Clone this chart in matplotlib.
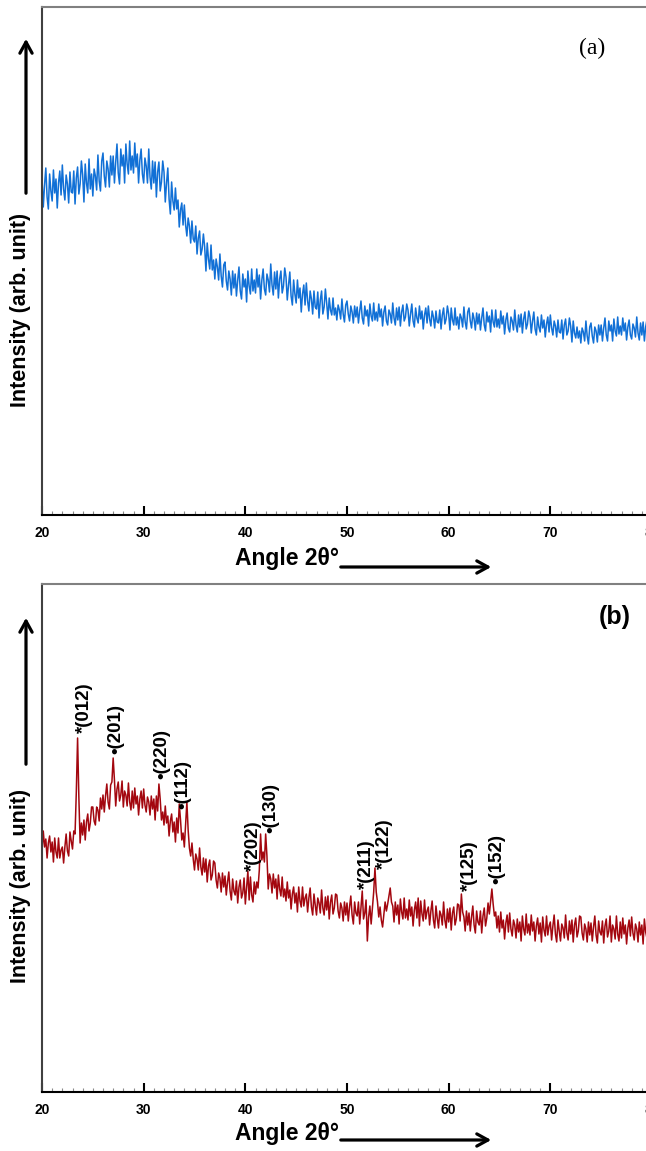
import numpy as np
import matplotlib.pyplot as plt
from matplotlib.patches import FancyArrowPatch
from matplotlib.ticker import MultipleLocator

plt.rcParams['font.family'] = ['Liberation Sans', 'DejaVu Sans']

# 2-theta grid (deg), 0.125 step
angle = np.arange(20, 80.001, 0.125)

# panel (a): amorphous sample, intensity in arb. units
intensity_a = [
    336, 308, 330, 347, 318, 306, 341, 324,   # 20
    314, 345, 322, 336, 307, 332, 344, 320,
    350, 326, 315, 340, 331, 312, 343, 323,
    322, 344, 311, 337, 348, 321, 331, 354,
    340, 313, 351, 332, 322, 356, 326, 341,
    319, 346, 339, 325, 360, 334, 324, 354,   # 25
    362, 339, 328, 354, 346, 328, 359, 340,
    359, 332, 353, 371, 342, 331, 366, 349,
    360, 332, 371, 351, 341, 374, 345, 359,
    342, 372, 348, 361, 332, 355, 366, 341,
    332, 357, 349, 332, 366, 338, 326, 354,   # 30
    332, 353, 318, 343, 353, 324, 333, 354,
    343, 313, 332, 347, 316, 301, 333, 314,
    305, 327, 306, 315, 288, 305, 312, 290,
    310, 290, 279, 297, 289, 272, 294, 276,
    273, 289, 261, 277, 284, 260, 266, 281,   # 35
    268, 244, 272, 256, 246, 270, 245, 255,
    236, 256, 248, 235, 261, 239, 228, 250,
    253, 234, 225, 244, 236, 220, 244, 227,
    241, 219, 235, 248, 224, 216, 241, 228,
    236, 213, 244, 229, 221, 246, 224, 235,   # 40
    222, 246, 228, 240, 216, 235, 246, 226,
    220, 241, 235, 223, 251, 230, 220, 243,
    226, 244, 217, 236, 244, 222, 229, 247,
    238, 215, 230, 243, 219, 210, 235, 221,
    212, 235, 217, 227, 203, 221, 230, 210,   # 45
    232, 214, 204, 224, 216, 201, 224, 208,
    206, 223, 197, 215, 224, 201, 208, 226,
    212, 196, 217, 205, 200, 217, 200, 207,
    195, 210, 205, 196, 216, 201, 193, 210,
    214, 201, 194, 209, 203, 192, 209, 198,   # 50
    208, 192, 204, 214, 197, 191, 209, 199,
    205, 189, 211, 199, 194, 212, 195, 203,
    194, 211, 198, 206, 189, 203, 209, 194,
    190, 205, 201, 192, 212, 197, 190, 207,
    195, 208, 189, 203, 210, 194, 198, 211,   # 55
    205, 189, 201, 211, 194, 188, 207, 197,
    192, 209, 196, 204, 186, 200, 207, 192,
    209, 196, 189, 204, 198, 187, 204, 193,
    192, 205, 186, 200, 207, 191, 196, 209,
    201, 185, 207, 195, 190, 207, 190, 198,   # 60
    186, 201, 197, 188, 208, 193, 186, 203,
    207, 194, 187, 202, 196, 185, 202, 191,
    201, 185, 197, 207, 190, 184, 203, 193,
    199, 183, 205, 193, 188, 205, 188, 196,
    187, 204, 191, 199, 181, 195, 202, 187,   # 65
    183, 198, 194, 185, 205, 190, 183, 200,
    188, 201, 182, 196, 203, 186, 191, 204,
    198, 182, 194, 203, 186, 180, 198, 188,
    183, 200, 187, 195, 178, 191, 198, 183,
    200, 187, 180, 194, 189, 178, 195, 183,   # 70
    182, 195, 176, 190, 196, 180, 184, 197,
    189, 173, 194, 182, 177, 188, 177, 184,
    172, 187, 183, 174, 194, 179, 171, 188,
    192, 179, 172, 188, 184, 173, 190, 180,
    190, 174, 187, 197, 180, 174, 194, 184,   # 75
    190, 174, 196, 184, 179, 198, 181, 189,
    180, 197, 184, 192, 175, 188, 195, 180,
    176, 191, 187, 178, 198, 182, 175, 192,
    180, 193, 174, 188, 195, 179, 184, 197,
    185,
]

# panel (b): crystalline sample
intensity_b = [
    242, 261, 245, 253, 234, 249, 256, 240,   # 20
    250, 230, 254, 240, 234, 254, 234, 242,
    245, 229, 245, 258, 241, 236, 260, 251,
    243, 261, 258, 300, 354, 295, 249, 269,
    257, 272, 252, 270, 278, 261, 269, 285,
    285, 271, 267, 285, 282, 271, 294, 283,   # 25
    297, 280, 296, 308, 290, 283, 307, 310,
    334, 312, 286, 303, 310, 291, 297, 311,
    285, 301, 297, 286, 309, 290, 282, 301,
    284, 304, 288, 296, 277, 293, 301, 284,
    303, 287, 280, 295, 290, 277, 296, 283,   # 30
    293, 272, 296, 281, 308, 293, 272, 280,
    267, 286, 269, 276, 256, 271, 278, 260,
    270, 250, 274, 259, 288, 272, 252, 259,
    245, 268, 290, 262, 244, 236, 249, 233,
    222, 238, 233, 222, 244, 225, 217, 234,   # 35
    220, 233, 210, 226, 232, 212, 217, 231,
    229, 212, 204, 219, 214, 200, 219, 205,
    216, 197, 210, 220, 201, 192, 213, 201,
    197, 211, 189, 205, 212, 194, 199, 214,
    188, 205, 221, 192, 215, 197, 190, 210,   # 40
    198, 210, 204, 222, 258, 232, 240, 230,
    258, 236, 203, 218, 213, 199, 218, 204,
    213, 193, 217, 203, 196, 215, 195, 203,
    191, 210, 194, 202, 183, 198, 205, 189,
    199, 180, 205, 191, 185, 205, 186, 194,   # 45
    198, 180, 194, 204, 185, 177, 198, 187,
    177, 194, 189, 179, 202, 184, 177, 195,
    182, 196, 173, 190, 197, 178, 184, 198,
    197, 181, 174, 189, 184, 171, 190, 177,
    189, 171, 185, 196, 177, 168, 190, 179,   # 50
    176, 190, 168, 185, 201, 173, 179, 192,
    151, 175, 186, 168, 184, 200, 224, 200,
    190, 175, 185, 172, 165, 178, 190, 181,
    188, 196, 204, 190, 186, 170, 190, 177,
    187, 168, 193, 180, 173, 194, 174, 183,   # 55
    172, 192, 176, 185, 166, 182, 190, 174,
    194, 166, 191, 178, 171, 192, 173, 181,
    185, 167, 181, 191, 172, 164, 186, 174,
    164, 181, 177, 167, 190, 172, 164, 183,
    170, 184, 162, 179, 185, 167, 173, 188,   # 60
    187, 171, 198, 180, 175, 161, 181, 167,
    179, 161, 175, 186, 167, 159, 181, 170,
    167, 181, 159, 176, 184, 166, 174, 189,
    178, 190, 203, 188, 176, 180, 164, 176,
    160, 180, 164, 172, 153, 169, 177, 160,   # 65
    179, 163, 156, 172, 167, 154, 173, 160,
    170, 151, 176, 163, 157, 178, 159, 168,
    157, 177, 161, 170, 151, 166, 174, 158,
    169, 150, 175, 162, 156, 176, 157, 166,
    170, 152, 166, 177, 158, 150, 172, 161,   # 70
    151, 168, 164, 154, 177, 159, 152, 171,
    158, 172, 150, 167, 174, 155, 161, 176,
    175, 159, 152, 168, 163, 150, 170, 157,
    169, 151, 165, 176, 157, 149, 171, 160,
    157, 171, 149, 166, 173, 155, 161, 176,   # 75
    150, 167, 163, 153, 176, 158, 151, 170,
    154, 174, 158, 167, 148, 164, 172, 156,
    175, 159, 152, 168, 163, 150, 170, 157,
    167, 148, 173, 160, 154, 175, 156, 165,
    162,
]

# peak labels in panel (b): text, 2-theta, intensity at label start
peak_labels = ['*(012)', '•(201)', '•(220)', '•(112)', '*(202)',
               '•(130)', '*(211)', '*(122)', '*(125)', '•(152)']
peak_x = [24.2, 27.3, 31.8, 33.9, 40.8, 42.5, 51.9, 53.7, 62.0, 64.7]
peak_y = [359, 338, 313, 283, 221, 259, 203, 223, 201, 208]

W, H = 646, 1151
fig = plt.figure(figsize=(W / 100, H / 100), dpi=100)


def fx(px):
    return px / W


def fy(py):
    return 1 - py / H


def setup_axes(ax):
    ax.set_xlim(20, 80)
    ax.set_ylim(0, 508)
    ax.set_yticks([])
    ax.xaxis.set_major_locator(MultipleLocator(10))
    ax.xaxis.set_minor_locator(MultipleLocator(1))
    ax.tick_params(axis='x', which='major', direction='in', length=6.5,
                   width=1.5, color='black', pad=8, labelsize=10)
    ax.tick_params(axis='x', which='minor', direction='in', length=3,
                   width=0.8, color='#8a8a8a')
    for lab in ax.get_xticklabels():
        lab.set_fontweight('bold')
    ax.spines['top'].set_color('#808080')
    ax.spines['left'].set_color('#404040')
    ax.spines['bottom'].set_color('black')
    for s in ['top', 'left', 'bottom']:
        ax.spines[s].set_linewidth(1.5)
    ax.spines['right'].set_visible(False)


def arrow(x0, y0, x1, y1):
    fig.add_artist(FancyArrowPatch((fx(x0), fy(y0)), (fx(x1), fy(y1)),
                                   transform=fig.transFigure,
                                   arrowstyle='->,head_length=0.4,head_width=0.22',
                                   mutation_scale=20, lw=2.3, color='black'))


# panel (a)
ax1 = fig.add_axes([fx(42), fy(515), 610 / W, 508 / H])
ax1.plot(angle, intensity_a, color='#1170d6', lw=1.1)
setup_axes(ax1)
fig.text(fx(592), fy(48), '(a)', family='Liberation Serif', fontsize=17,
         ha='center', va='center')
fig.text(fx(21), fy(407), 'Intensity (arb. unit)', rotation=90,
         ha='center', va='bottom', fontsize=15.5, fontweight='bold')
arrow(26, 196, 26, 36)
fig.text(fx(235), fy(565), 'Angle 2θ°', ha='left', va='baseline',
         fontsize=16.5, fontweight='bold')
arrow(338, 567, 494, 567)

# panel (b)
ax2 = fig.add_axes([fx(42), fy(1092), 610 / W, 508 / H])
ax2.plot(angle, intensity_b, color='#a3070f', lw=1.1)
setup_axes(ax2)
for t, x, y in zip(peak_labels, peak_x, peak_y):
    ax2.text(x, y, t, rotation=90, ha='center', va='bottom',
             fontsize=13.5, fontweight='bold')
fig.text(fx(615), fy(617), '(b)', fontsize=18, fontweight='bold',
         ha='center', va='center')
fig.text(fx(21), fy(983), 'Intensity (arb. unit)', rotation=90,
         ha='center', va='bottom', fontsize=15.5, fontweight='bold')
arrow(26, 767, 26, 615)
fig.text(fx(235), fy(1140), 'Angle 2θ°', ha='left', va='baseline',
         fontsize=16.5, fontweight='bold')
arrow(338, 1140, 494, 1140)

fig.savefig('out.png', dpi=100)
